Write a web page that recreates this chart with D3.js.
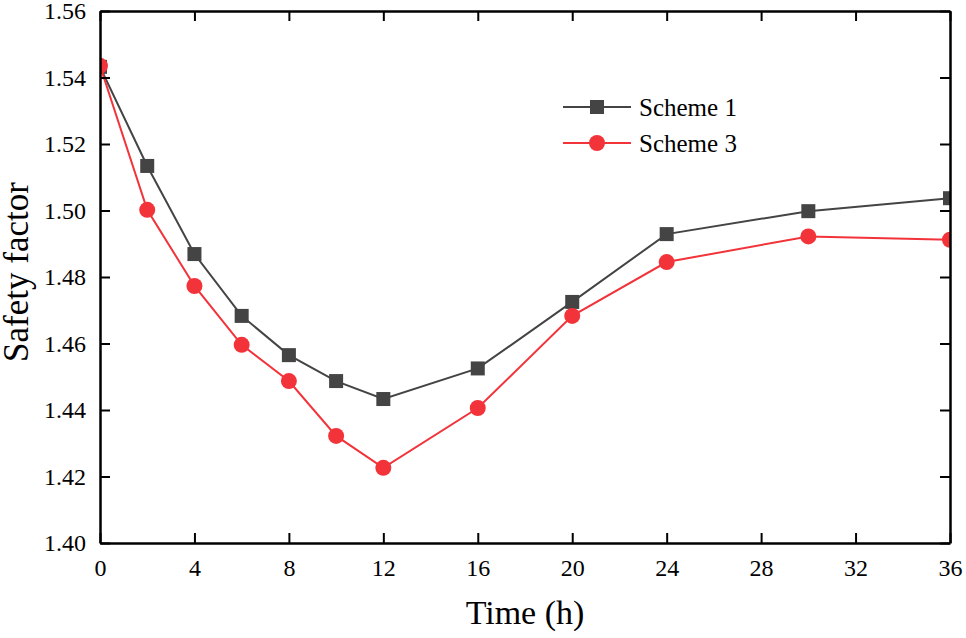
<!DOCTYPE html>
<html lang="en">
<head>
<meta charset="UTF-8">
<title>Safety factor</title>
<script src="https://cdn.jsdelivr.net/npm/d3@7"></script>
<style>
  body { margin: 0; background: #fff; }
  text { font-family: "Liberation Serif", "Times New Roman", serif; fill: #000; }
</style>
</head>
<body>
<svg></svg>
<script>
    var width = 966, height = 638;
    var margin = {left: 100, right: 16, top: 11, bottom: 95};

    // data
    var times = [0, 2, 4, 6, 8, 10, 12, 16, 20, 24, 30, 36];
    var scheme1 = [1.5432, 1.5134, 1.4869, 1.4683, 1.4565, 1.4487, 1.4433, 1.4525, 1.4725, 1.4929, 1.4998, 1.5037];
    var scheme3 = [1.5435, 1.5002, 1.4773, 1.4596, 1.4487, 1.4322, 1.4226, 1.4406, 1.4683, 1.4845, 1.4922, 1.4912];
    var xTicks = [0, 4, 8, 12, 16, 20, 24, 28, 32, 36];
    var yTicks = [1.40, 1.42, 1.44, 1.46, 1.48, 1.50, 1.52, 1.54, 1.56];

    var svg = d3.select('svg').attr('width', width).attr('height', height);
    var w = width - margin.left - margin.right;
    var h = height - margin.top - margin.bottom;

    var x = d3.scaleLinear().domain([0, 36]).range([0, w]);
    var y = d3.scaleLinear().domain([1.40, 1.56]).range([h, 0]);

    var g = svg.append('g').attr('transform', 'translate(' + margin.left + ',' + margin.top + ')');

    svg.append('defs').append('clipPath').attr('id', 'clip')
        .append('rect').attr('width', w).attr('height', h);

    var series = [
        {name: 'Scheme 1', values: scheme1, color: '#444444', shape: 'square'},
        {name: 'Scheme 3', values: scheme3, color: '#f2333a', shape: 'circle'}
    ];

    var line = d3.line().x(function(d) { return x(d[0]); }).y(function(d) { return y(d[1]); });

    var plot = g.append('g').attr('clip-path', 'url(#clip)');

    function drawMarker(sel, s, cx, cy) {
        if (s.shape === 'square') {
            sel.append('rect').attr('x', cx - 7).attr('y', cy - 7)
                .attr('width', 14).attr('height', 14).attr('fill', s.color);
        } else {
            sel.append('circle').attr('cx', cx).attr('cy', cy).attr('r', 8).attr('fill', s.color);
        }
    }

    series.forEach(function(s) {
        var pts = times.map(function(t, i) { return [t, s.values[i]]; });
        plot.append('path').datum(pts)
            .attr('d', line)
            .attr('fill', 'none')
            .attr('stroke', s.color)
            .attr('stroke-width', 2);
        pts.forEach(function(p) { drawMarker(plot, s, x(p[0]), y(p[1])); });
    });

    // axes (ticks inside, mirrored)
    var fmt = d3.format('.2f');
    var axB = g.append('g').attr('transform', 'translate(0,' + h + ')')
        .call(d3.axisBottom(x).tickValues(xTicks).tickSizeInner(-10).tickSizeOuter(0).tickPadding(16));
    var axT = g.append('g')
        .call(d3.axisTop(x).tickValues(xTicks).tickSizeInner(-10).tickSizeOuter(0).tickFormat(''));
    var axL = g.append('g')
        .call(d3.axisLeft(y).tickValues(yTicks).tickFormat(fmt).tickSizeInner(-10).tickSizeOuter(0).tickPadding(14));
    var axR = g.append('g').attr('transform', 'translate(' + w + ',0)')
        .call(d3.axisRight(y).tickValues(yTicks).tickSizeInner(-10).tickSizeOuter(0).tickFormat(''));

    [axB, axT, axL, axR].forEach(function(a) {
        a.attr('font-family', 'Liberation Serif').attr('font-size', 24);
        a.selectAll('path').attr('stroke', '#000').attr('stroke-width', 2.5);
        a.selectAll('line').attr('stroke', '#000').attr('stroke-width', 2);
        a.selectAll('text').style('font-family', 'Liberation Serif').style('font-size', '24px').attr('fill', '#000');
    });

    // axis titles
    g.append('text').attr('x', w / 2).attr('y', h + 81)
        .attr('text-anchor', 'middle').style('font-size', '34px').text('Time (h)');
    g.append('text').attr('transform', 'translate(' + (-72) + ',' + (h / 2 - 5) + ') rotate(-90)')
        .attr('text-anchor', 'middle').style('font-size', '35px').text('Safety factor');

    // legend
    var leg = svg.append('g').attr('transform', 'translate(563,107)');
    series.forEach(function(s, i) {
        var row = leg.append('g').attr('transform', 'translate(0,' + (i * 36) + ')');
        row.append('line').attr('x1', 0).attr('x2', 68).attr('y1', 0).attr('y2', 0)
            .attr('stroke', s.color).attr('stroke-width', 2);
        drawMarker(row, s, 34, 0);
        row.append('text').attr('x', 76).attr('y', 9).style('font-size', '25px').text(s.name);
    });
</script>
</body>
</html>
